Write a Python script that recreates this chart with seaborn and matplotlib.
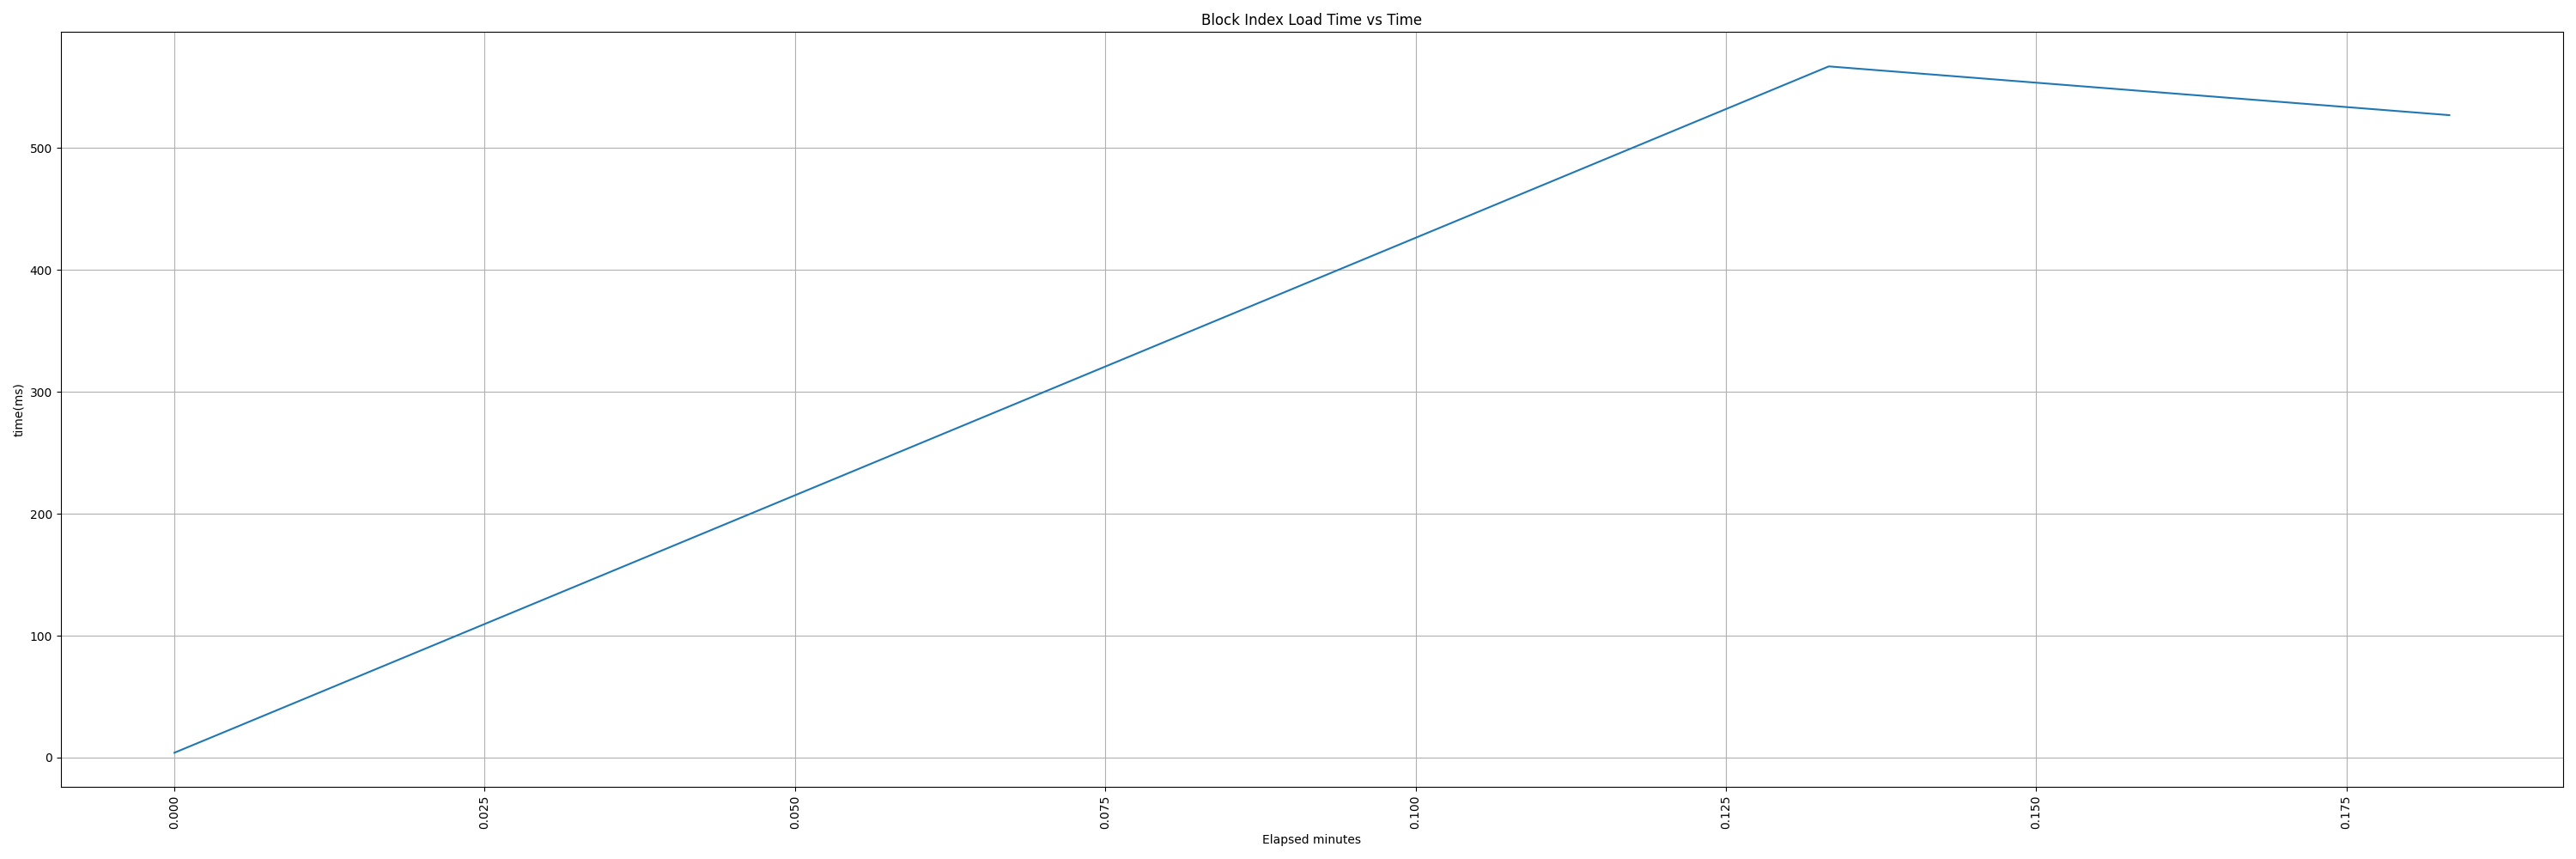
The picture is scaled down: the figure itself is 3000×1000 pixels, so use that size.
import pandas as pd
import matplotlib
matplotlib.use("Agg")
import matplotlib.pyplot as plt
import seaborn as sns

elapsed_minutes = [0.0, 0.1333, 0.1833]
load_time_ms = [4, 567, 527]

df = pd.DataFrame({'Elapsed minutes': elapsed_minutes, 'time(ms)': load_time_ms})

fig, ax = plt.subplots(figsize=(30, 10), dpi=100)
sns.lineplot(x='Elapsed minutes', y='time(ms)', data=df, ax=ax)
ax.set_title("Block Index Load Time vs Time")
ax.set_xlabel("Elapsed minutes")
ax.set_ylabel("time(ms)")
ax.grid(True)
plt.xticks(rotation=90)
plt.tight_layout()
plt.savefig("out.png")
